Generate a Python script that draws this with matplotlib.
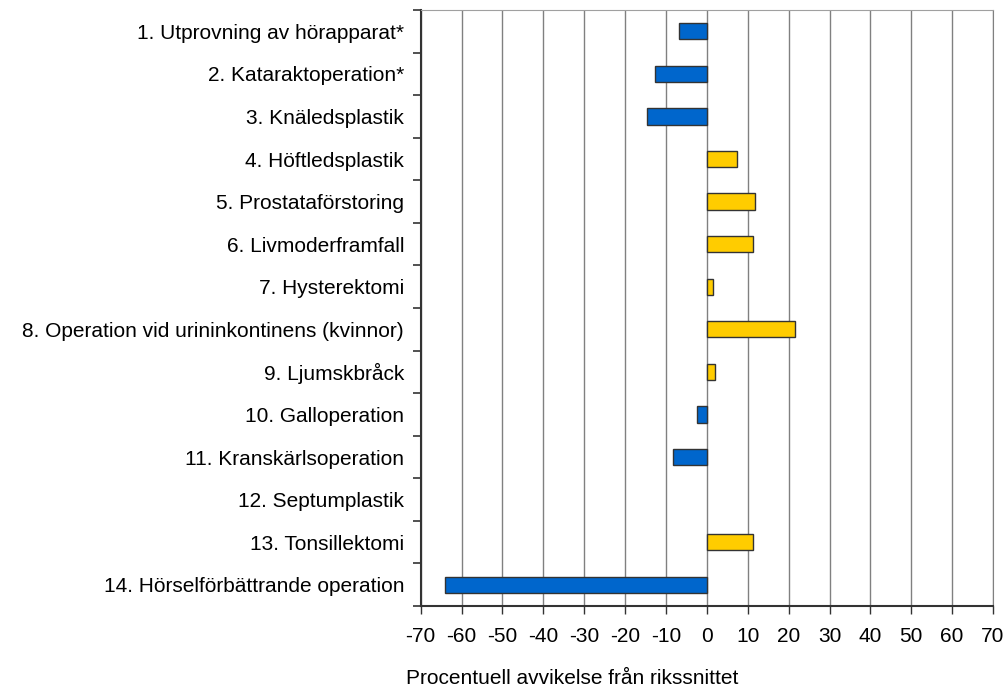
import matplotlib.pyplot as plt
import numpy as np

plt.rcParams['font.family'] = ['Liberation Sans', 'DejaVu Sans']

# Data
categories = ['1. Utprovning av hörapparat*',
              '2. Kataraktoperation*',
              '3. Knäledsplastik',
              '4. Höftledsplastik',
              '5. Prostataförstoring',
              '6. Livmoderframfall',
              '7. Hysterektomi',
              '8. Operation vid urininkontinens (kvinnor)',
              '9. Ljumskbråck',
              '10. Galloperation',
              '11. Kranskärlsoperation',
              '12. Septumplastik',
              '13. Tonsillektomi',
              '14. Hörselförbättrande operation']
values = [-6.8, -12.7, -14.7, 7.3, 11.7, 11.2, 1.4,
          21.5, 2.0, -2.5, -8.3, 0.0, 11.2, -64.1]
xticks = list(range(-70, 71, 10))

blue = '#0066CC'
yellow = '#FFCC00'
colors = [blue if v < 0 else yellow for v in values]
edges = ['#333333' if v != 0 else 'none' for v in values]

fig = plt.figure(figsize=(10.05, 6.86), dpi=100)
ax = fig.add_axes([0.4186, 0.1166, 0.5695, 0.8688])

y = np.arange(len(categories))
ax.barh(y, values, height=0.38, color=colors, edgecolor=edges,
        linewidth=1.0, zorder=3)

ax.set_ylim(len(categories) - 0.5, -0.5)
ax.set_xlim(-70, 70)
ax.set_xticks(xticks)
ax.set_xticklabels([str(t) for t in xticks], fontsize=15)
ax.set_yticks(y)
ax.set_yticklabels(categories, fontsize=15)
ax.set_yticks(np.arange(-0.5, len(categories), 1), minor=True)
ax.tick_params(axis='y', which='major', length=0, pad=12)
ax.tick_params(axis='y', which='minor', length=6, width=1.2, color='#333333')
ax.tick_params(axis='x', length=6, width=1.0, color='#333333', pad=9)

ax.xaxis.grid(True, color='#808080', linewidth=1.0, zorder=0)
ax.set_axisbelow(True)

ax.spines['left'].set_color('#333333')
ax.spines['left'].set_linewidth(1.5)
ax.spines['bottom'].set_color('#333333')
ax.spines['bottom'].set_linewidth(1.5)
ax.spines['top'].set_color('#a0a0a0')
ax.spines['right'].set_color('#808080')

ax.set_xlabel('Procentuell avvikelse från rikssnittet', fontsize=15)
ax.xaxis.set_label_coords(0.264, -0.105)

plt.savefig('out.png', dpi=100)
